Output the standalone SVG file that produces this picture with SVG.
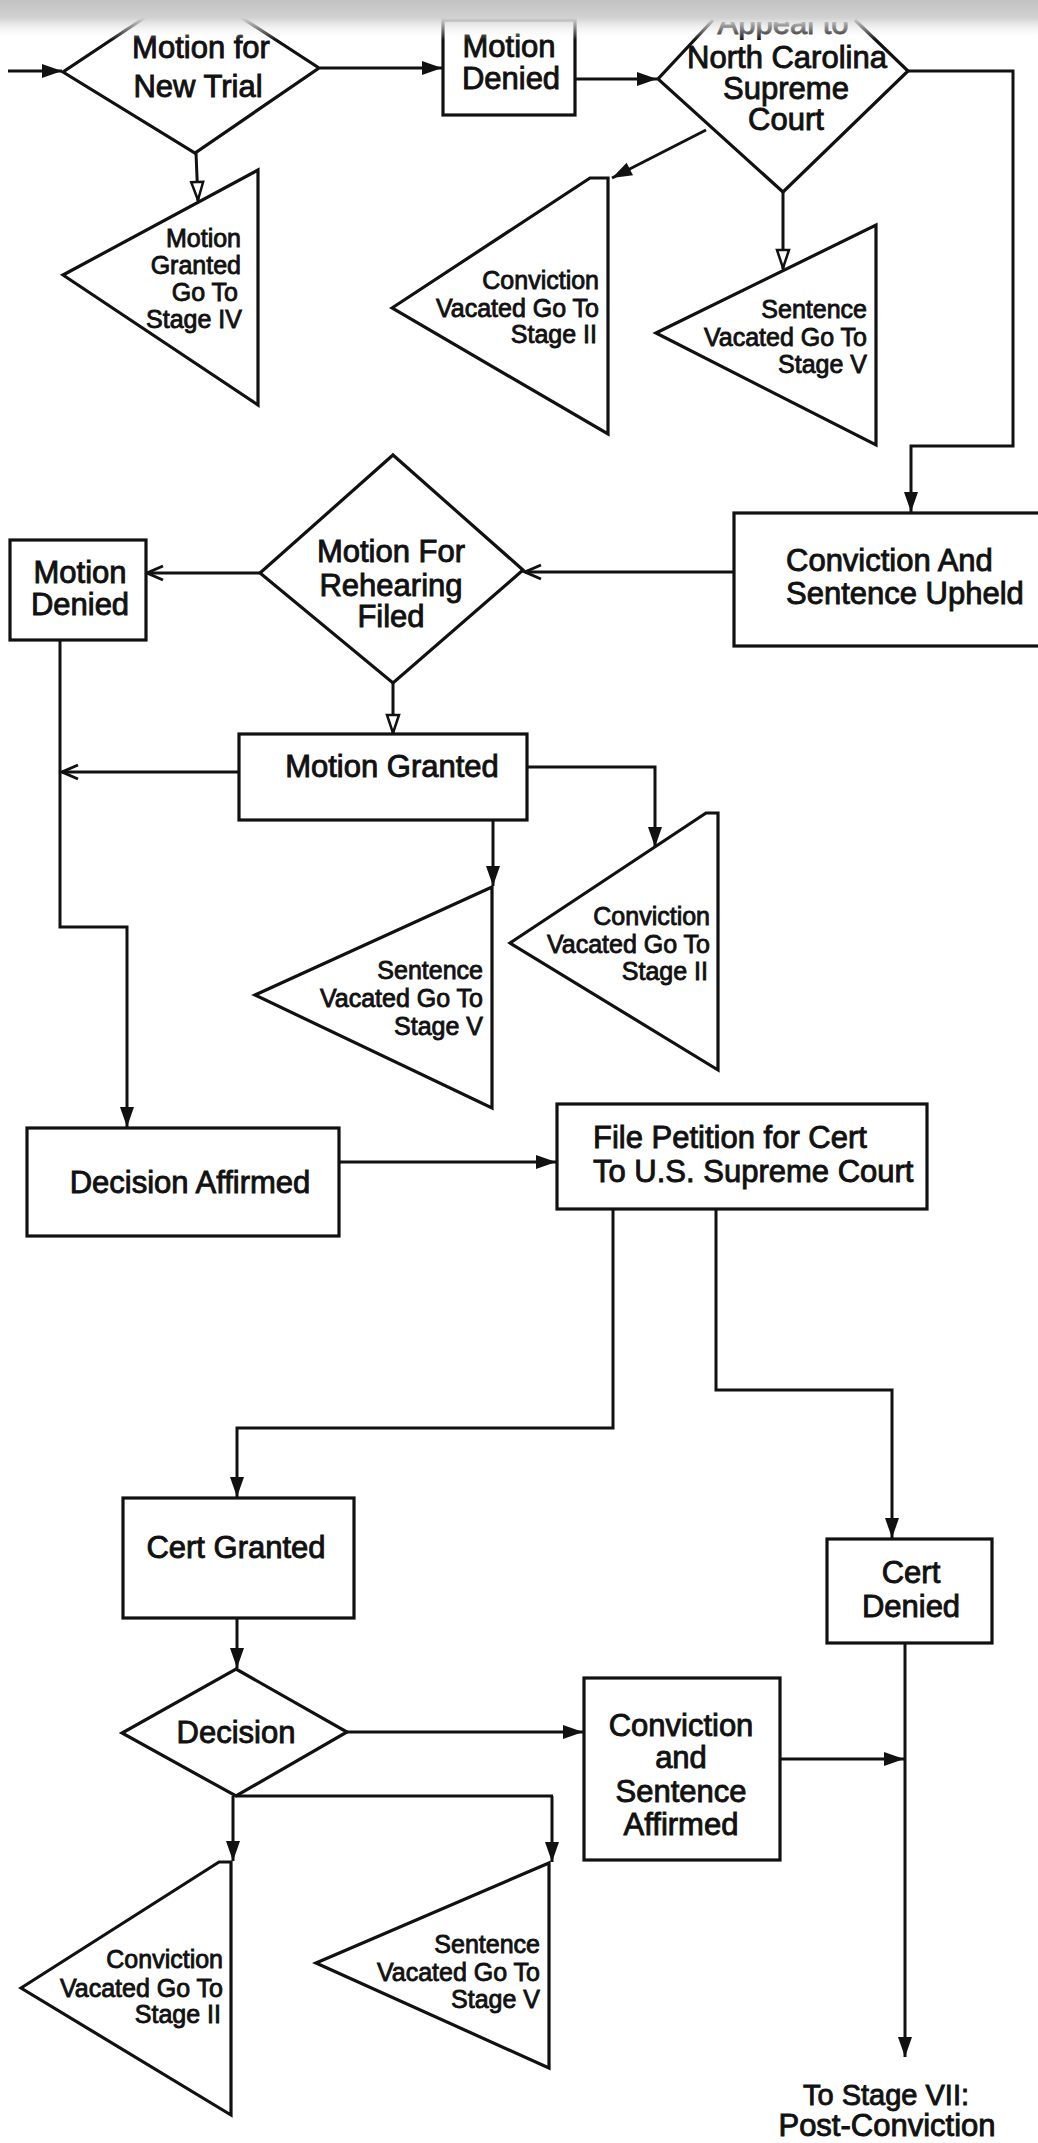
<svg xmlns="http://www.w3.org/2000/svg" width="1038" height="2143" viewBox="0 0 1038 2143">
  <defs>
    <style>
      .shape { fill: none; stroke: #111; stroke-width: 3.2; stroke-linejoin: miter; }
      .box { fill: #fff; stroke: #111; stroke-width: 3.2; }
      .wire { fill: none; stroke: #111; stroke-width: 3; }
      .t { font-family: "Liberation Sans", Arial, sans-serif; font-size: 31px; fill: #111; stroke: #111; stroke-width: 0.9; }
      .s { font-family: "Liberation Sans", Arial, sans-serif; font-size: 25px; fill: #111; stroke: #111; stroke-width: 0.85; }
      .mid { text-anchor: middle; }
      .end { text-anchor: end; }
    </style>
    <marker id="ah" viewBox="0 0 22 16" markerWidth="22" markerHeight="16" refX="21" refY="8" orient="auto" markerUnits="userSpaceOnUse" overflow="visible">
      <path d="M1,1 L21,8 L1,15 Z" fill="#111"/>
    </marker>
    <marker id="ahHollow" viewBox="0 0 22 16" markerWidth="22" markerHeight="16" refX="21" refY="8" orient="auto" markerUnits="userSpaceOnUse" overflow="visible">
      <path d="M2,2 L20,8 L2,14 Z" fill="#fff" stroke="#111" stroke-width="2.5"/>
    </marker>
    <marker id="ahChevron" viewBox="0 0 20 16" markerWidth="20" markerHeight="16" refX="19" refY="8" orient="auto" markerUnits="userSpaceOnUse" overflow="visible">
      <path d="M3,1 L19,8 L3,15" fill="none" stroke="#111" stroke-width="3"/>
    </marker>
    <linearGradient id="band" x1="0" y1="0" x2="0" y2="1">
      <stop offset="0" stop-color="#c2c2c2"/>
      <stop offset="0.45" stop-color="#d2d2d2"/>
      <stop offset="1" stop-color="#ffffff" stop-opacity="0"/>
    </linearGradient>
    <clipPath id="topCut">
      <rect x="0" y="22" width="1038" height="18"/>
    </clipPath>
  </defs>

  <rect x="0" y="0" width="1038" height="2143" fill="#fff"/>

  <!-- connectors -->
  <g id="connectors">
    <path class="wire" d="M8,71 L62,71" marker-end="url(#ah)"/>
    <path class="wire" d="M320,68 L442,68" marker-end="url(#ah)"/>
    <path class="wire" d="M196,153 L198,201" marker-end="url(#ahHollow)"/>
    <path class="wire" d="M575,79 L657,79" marker-end="url(#ah)"/>
    <path class="wire" d="M706,130 L612,178" marker-end="url(#ah)"/>
    <path class="wire" d="M783,192 L783,269" marker-end="url(#ahHollow)"/>
    <path class="wire" d="M908,71 H1013 V446 H911 V512" marker-end="url(#ah)"/>
    <path class="wire" d="M734,572 L525,572" marker-end="url(#ahChevron)"/>
    <path class="wire" d="M260,573 L147,573" marker-end="url(#ahChevron)"/>
    <path class="wire" d="M393,683 L393,734" marker-end="url(#ahHollow)"/>
    <path class="wire" d="M239,772 L62,772" marker-end="url(#ahChevron)"/>
    <path class="wire" d="M60,640 V927 H127 V1127" marker-end="url(#ah)"/>
    <path class="wire" d="M527,767 H655 V847" marker-end="url(#ah)"/>
    <path class="wire" d="M493,820 V886" marker-end="url(#ah)"/>
    <path class="wire" d="M339,1162 L556,1162" marker-end="url(#ah)"/>
    <path class="wire" d="M613,1209 V1428 H237 V1497" marker-end="url(#ah)"/>
    <path class="wire" d="M716,1209 V1390 H892 V1538" marker-end="url(#ah)"/>
    <path class="wire" d="M237,1618 V1668" marker-end="url(#ah)"/>
    <path class="wire" d="M347,1732 L583,1732" marker-end="url(#ah)"/>
    <path class="wire" d="M236,1796 H553"/>
    <path class="wire" d="M233,1796 V1861" marker-end="url(#ah)"/>
    <path class="wire" d="M552,1796 V1862" marker-end="url(#ah)"/>
    <path class="wire" d="M780,1759 L904,1759" marker-end="url(#ah)"/>
    <path class="wire" d="M905,1643 V2057" marker-end="url(#ah)"/>
  </g>

  <!-- decision: motion for new trial -->
  <g id="motion-new-trial">
    <path class="shape" d="M150,14 L63,72 L195,153 L319,68 L236,14"/>
    <text class="t mid" x="201" y="58">Motion for</text>
    <text class="t mid" x="198" y="97">New Trial</text>
  </g>

  <g id="motion-granted-stage4">
    <polygon class="shape" points="63,275 258,170 258,405"/>
    <text class="s end" x="241" y="247">Motion</text>
    <text class="s end" x="241" y="274">Granted</text>
    <text class="s end" x="238" y="301">Go To</text>
    <text class="s end" x="242" y="328">Stage IV</text>
  </g>

  <g id="motion-denied-top">
    <rect class="box" x="443" y="20" width="132" height="95"/>
    <text class="t mid" x="509" y="57">Motion</text>
    <text class="t mid" x="511" y="89">Denied</text>
  </g>

  <g id="appeal-nc-supreme">
    <path class="shape" d="M713,20 L658,79 L783,192 L908,71 L855,20"/>
    <text class="t mid" x="783" y="34" clip-path="url(#topCut)">Appeal to</text>
    <text class="t mid" x="787" y="68">North Carolina</text>
    <text class="t mid" x="786" y="99">Supreme</text>
    <text class="t mid" x="786" y="130">Court</text>
  </g>

  <g id="conviction-vacated-1">
    <polygon class="shape" points="392,308 590,178 608,178 608,434"/>
    <text class="s end" x="599" y="289">Conviction</text>
    <text class="s end" x="599" y="317">Vacated Go To</text>
    <text class="s end" x="597" y="343">Stage II</text>
  </g>

  <g id="sentence-vacated-1">
    <polygon class="shape" points="656,333 876,225 876,445"/>
    <text class="s end" x="867" y="318">Sentence</text>
    <text class="s end" x="867" y="346">Vacated Go To</text>
    <text class="s end" x="867" y="373">Stage V</text>
  </g>

  <g id="conviction-sentence-upheld">
    <rect class="box" x="734" y="513" width="312" height="133"/>
    <text class="t" x="786" y="571">Conviction And</text>
    <text class="t" x="786" y="604">Sentence Upheld</text>
  </g>

  <g id="motion-rehearing">
    <polygon class="shape" points="393,455 523,570 393,683 260,573"/>
    <text class="t mid" x="391" y="562">Motion For</text>
    <text class="t mid" x="391" y="596">Rehearing</text>
    <text class="t mid" x="391" y="627">Filed</text>
  </g>

  <g id="motion-denied-left">
    <rect class="box" x="10" y="540" width="136" height="100"/>
    <text class="t mid" x="80" y="583">Motion</text>
    <text class="t mid" x="80" y="615">Denied</text>
  </g>

  <g id="motion-granted">
    <rect class="box" x="239" y="734" width="288" height="86"/>
    <text class="t mid" x="392" y="777">Motion Granted</text>
  </g>

  <g id="conviction-vacated-2">
    <polygon class="shape" points="510,943 706,813 718,813 718,1070"/>
    <text class="s end" x="710" y="925">Conviction</text>
    <text class="s end" x="710" y="953">Vacated Go To</text>
    <text class="s end" x="708" y="980">Stage II</text>
  </g>

  <g id="sentence-vacated-2">
    <polygon class="shape" points="255,995 492,887 492,1108"/>
    <text class="s end" x="483" y="979">Sentence</text>
    <text class="s end" x="483" y="1007">Vacated Go To</text>
    <text class="s end" x="483" y="1035">Stage V</text>
  </g>

  <g id="decision-affirmed">
    <rect class="box" x="27" y="1128" width="312" height="108"/>
    <text class="t mid" x="190" y="1193">Decision Affirmed</text>
  </g>

  <g id="petition-cert">
    <rect class="box" x="557" y="1104" width="370" height="105"/>
    <text class="t" x="593" y="1148">File Petition for Cert</text>
    <text class="t" x="593" y="1182">To U.S. Supreme Court</text>
  </g>

  <g id="cert-granted">
    <rect class="box" x="123" y="1498" width="231" height="120"/>
    <text class="t mid" x="236" y="1558">Cert Granted</text>
  </g>

  <g id="cert-denied">
    <rect class="box" x="827" y="1539" width="165" height="104"/>
    <text class="t mid" x="911" y="1583">Cert</text>
    <text class="t mid" x="911" y="1617">Denied</text>
  </g>

  <g id="decision">
    <polygon class="shape" points="236,1669 347,1732 236,1796 122,1733"/>
    <text class="t mid" x="236" y="1743">Decision</text>
  </g>

  <g id="conviction-sentence-affirmed">
    <rect class="box" x="584" y="1678" width="196" height="182"/>
    <text class="t mid" x="681" y="1736">Conviction</text>
    <text class="t mid" x="681" y="1768">and</text>
    <text class="t mid" x="681" y="1802">Sentence</text>
    <text class="t mid" x="681" y="1835">Affirmed</text>
  </g>

  <g id="conviction-vacated-3">
    <polygon class="shape" points="21,1988 219,1862 231,1862 231,2115"/>
    <text class="s end" x="223" y="1968">Conviction</text>
    <text class="s end" x="223" y="1997">Vacated Go To</text>
    <text class="s end" x="221" y="2023">Stage II</text>
  </g>

  <g id="sentence-vacated-3">
    <polygon class="shape" points="316,1963 549,1863 549,2068"/>
    <text class="s end" x="540" y="1953">Sentence</text>
    <text class="s end" x="540" y="1981">Vacated Go To</text>
    <text class="s end" x="540" y="2008">Stage V</text>
  </g>

  <g id="to-stage-7">
    <text class="t mid" x="886" y="2105" style="font-size:29px">To Stage VII:</text>
    <text class="t mid" x="887" y="2136">Post-Conviction</text>
  </g>

  <!-- worn top edge of the sheet -->
  <rect x="0" y="0" width="1038" height="40" fill="url(#band)"/>
</svg>
